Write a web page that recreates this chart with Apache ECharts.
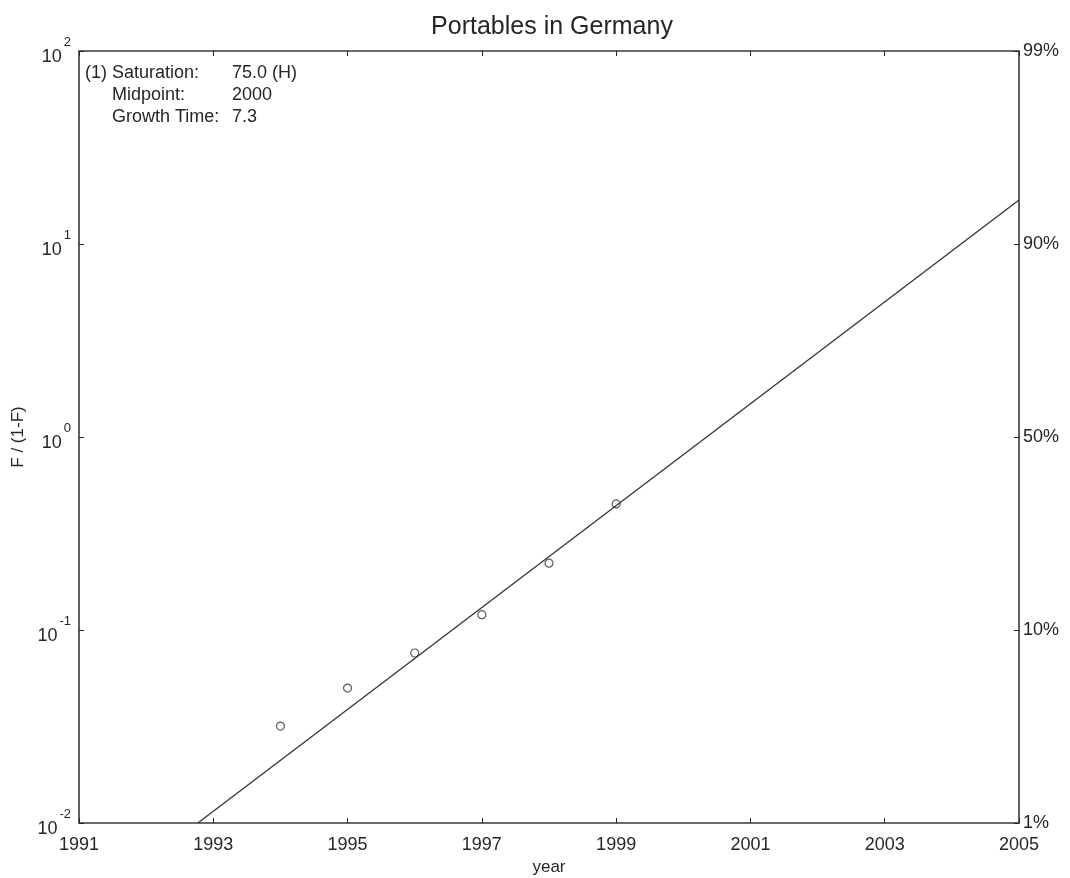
<!DOCTYPE html>
<html>
<head>
<meta charset="utf-8">
<script src="https://cdn.jsdelivr.net/npm/echarts@6/dist/echarts.min.js"></script>
<style>
  html, body { margin: 0; padding: 0; background: #fff; }
  #chart { width: 1070px; height: 878px; }
</style>
</head>
<body>
<div id="chart"></div>
<script>
// Fisher-Pry view of portable adoption in Germany
const years = [1994, 1995, 1996, 1997, 1998, 1999];
const ratio = [0.0318, 0.050, 0.076, 0.120, 0.222, 0.450];   // F / (1-F)
const fitLine = [[1992.77, 0.01], [2005, 16.9]];             // fitted logistic (straight on this scale)
const xTicks = [1991, 1993, 1995, 1997, 1999, 2001, 2003, 2005];
const leftExp = { 0.01: '-2', 0.1: '-1', 1: '0', 10: '1', 100: '2' };
const rightPct = { 0.01: '1%', 0.1: '10%', 1: '50%', 10: '90%', 100: '99%' };
const infoLines = [
  ['(1) Saturation:', '75.0 (H)'],
  ['Midpoint:', '2000'],
  ['Growth Time:', '7.3']
];

const FONT = '"Liberation Sans", Arial, Helvetica, sans-serif';
const INK = '#262626';

const chart = echarts.init(document.getElementById('chart'), null, { renderer: 'canvas' });

function key(v) {
  // snap log-axis tick values to their decade
  const e = Math.round(Math.log10(v));
  return Math.pow(10, e);
}

const xBase = {
  type: 'value', min: xTicks[0], max: xTicks[xTicks.length - 1], interval: 2,
  splitLine: { show: false },
  axisLine: { show: false },
  axisTick: { show: true, inside: true, length: 5, lineStyle: { color: INK, width: 1 } }
};

chart.setOption({
  backgroundColor: '#fff',
  animation: false,
  title: {
    text: 'Portables in Germany',
    left: 547, top: 10, textAlign: 'center',
    textStyle: { fontFamily: FONT, fontSize: 25, fontWeight: 'normal', color: INK }
  },
  grid: {
    left: 79, right: 51, top: 51, bottom: 55,
    outerBoundsMode: 'none', containLabel: false,
    show: true, borderColor: '#3a3a3a', borderWidth: 1.6, backgroundColor: 'transparent'
  },
  xAxis: [
    Object.assign({}, xBase, {
      position: 'bottom',
      name: 'year', nameLocation: 'middle', nameGap: 27,
      nameTextStyle: { fontFamily: FONT, fontSize: 17, color: INK },
      axisLabel: { fontFamily: FONT, fontSize: 18, color: INK, margin: 13,
        formatter: v => String(v) }
    }),
    Object.assign({}, xBase, { position: 'top', axisLabel: { show: false } })
  ],
  yAxis: [
    {
      type: 'log', logBase: 10, min: 0.01, max: 100, position: 'left',
      name: 'F / (1-F)', nameLocation: 'middle', nameGap: 50, nameRotate: 90,
      nameTextStyle: { fontFamily: FONT, fontSize: 17, color: INK },
      splitLine: { show: false },
      axisLine: { show: false },
      axisTick: { show: true, inside: true, length: 5, lineStyle: { color: INK } },
      axisLabel: {
        margin: 8,
        formatter: v => '{b|10}{s|' + leftExp[key(v)] + '}',
        rich: {
          b: { fontFamily: FONT, fontSize: 18, color: INK, verticalAlign: 'bottom', padding: [12, 0, 0, 0] },
          s: { fontFamily: FONT, fontSize: 13, color: INK, verticalAlign: 'top', padding: [0, 0, 12, 2] }
        }
      }
    },
    {
      type: 'log', logBase: 10, min: 0.01, max: 100, position: 'right',
      splitLine: { show: false },
      axisLine: { show: false },
      axisTick: { show: true, inside: true, length: 5, lineStyle: { color: INK } },
      axisLabel: {
        margin: 4,
        fontFamily: FONT, fontSize: 18, color: INK,
        formatter: v => rightPct[key(v)]
      }
    }
  ],
  graphic: [
    {
      type: 'group', left: 85, top: 64,
      children: infoLines.flatMap((row, i) => [
        { type: 'text', x: i === 0 ? 0 : 27, y: i * 22,
          style: { text: row[0], font: '18px ' + FONT, fill: INK } },
        { type: 'text', x: 147, y: i * 22,
          style: { text: row[1], font: '18px ' + FONT, fill: INK } }
      ])
    }
  ],
  series: [
    {
      type: 'line', xAxisIndex: 0, yAxisIndex: 0,
      data: fitLine, showSymbol: false, silent: true,
      lineStyle: { color: '#333', width: 1.3 }
    },
    {
      type: 'scatter', xAxisIndex: 0, yAxisIndex: 0,
      data: years.map((y, i) => [y, ratio[i]]),
      symbol: 'circle', symbolSize: 8,
      itemStyle: { color: '#fff', borderColor: '#333', borderWidth: 1.2 }
    }
  ]
});
</script>
</body>
</html>
